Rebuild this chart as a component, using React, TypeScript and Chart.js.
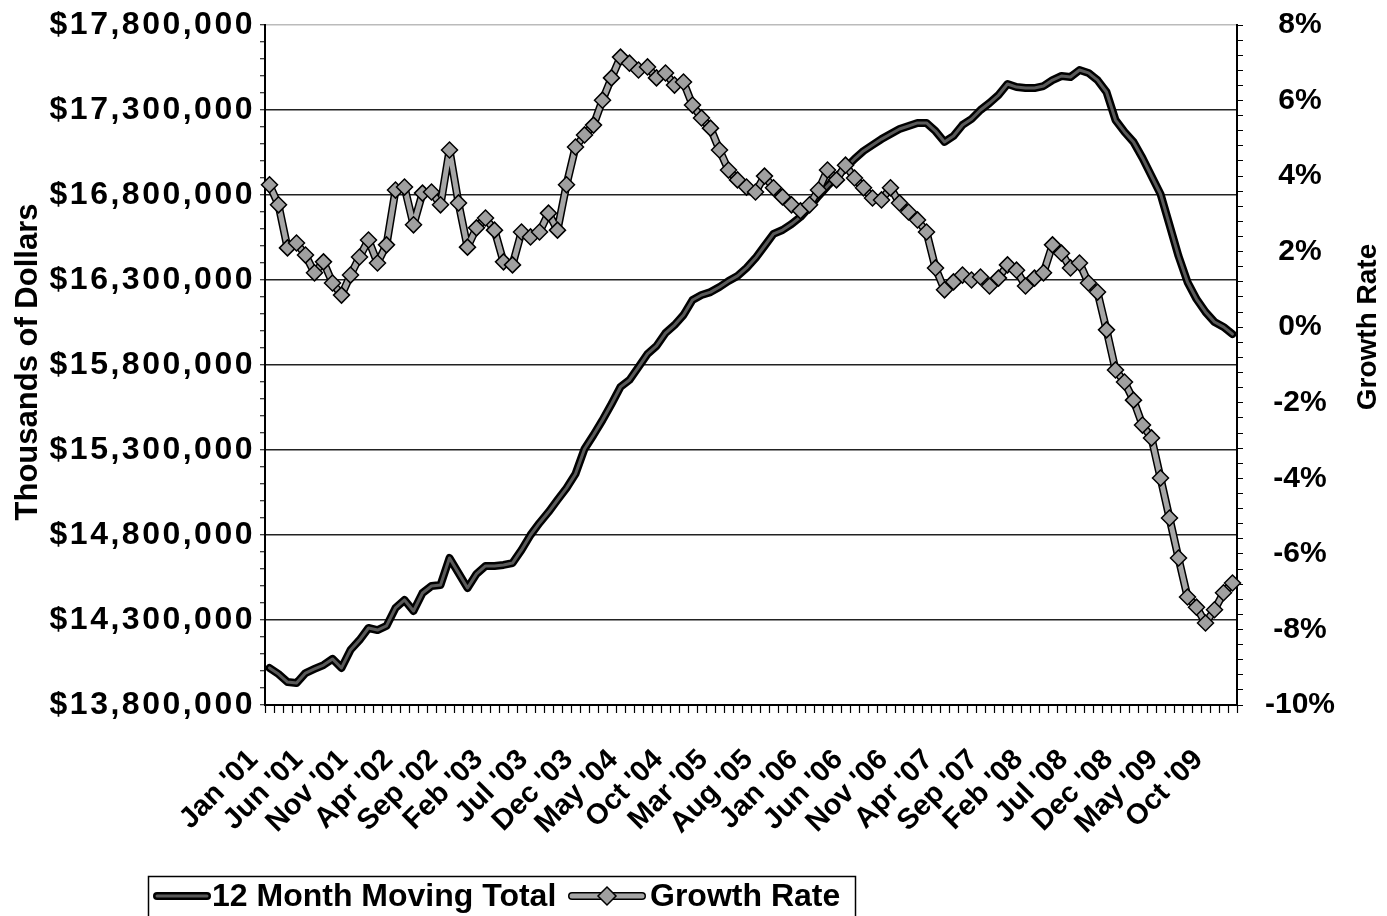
import React, { useEffect, useRef } from "react";
import { Chart, registerables } from "chart.js";

Chart.register(...registerables);

const MONTHS = ["Jan", "Feb", "Mar", "Apr", "May", "Jun", "Jul", "Aug", "Sep", "Oct", "Nov", "Dec"];
const YEARS = ["01", "02", "03", "04", "05", "06", "07", "08", "09"];
const CATEGORIES = YEARS.flatMap((y) => MONTHS.map((m) => `${m} '${y}`));

const MOVING_TOTAL = [
  14018000, 13982000, 13935000, 13929000, 13988000, 14012000, 14035000, 14071000, 14018000, 14124000,
  14182000, 14253000, 14241000, 14265000, 14371000, 14418000, 14353000, 14459000, 14500000, 14506000,
  14665000, 14576000, 14488000, 14571000, 14618000, 14618000, 14624000, 14635000, 14712000, 14800000,
  14871000, 14935000, 15006000, 15076000, 15159000, 15306000, 15388000, 15476000, 15571000, 15671000,
  15712000, 15788000, 15865000, 15912000, 15988000, 16035000, 16094000, 16182000, 16212000, 16229000,
  16259000, 16294000, 16324000, 16371000, 16429000, 16500000, 16571000, 16594000, 16629000, 16671000,
  16729000, 16794000, 16853000, 16906000, 16959000, 17012000, 17059000, 17094000, 17129000, 17159000,
  17188000, 17206000, 17224000, 17224000, 17176000, 17112000, 17147000, 17212000, 17247000, 17300000,
  17341000, 17388000, 17453000, 17435000, 17429000, 17429000, 17441000, 17476000, 17500000, 17494000,
  17535000, 17518000, 17476000, 17406000, 17241000, 17171000, 17112000, 17018000, 16912000, 16806000,
  16624000, 16441000, 16288000, 16188000, 16112000, 16053000, 16024000, 15982000,
];

const GROWTH_RATE = [
  3.77, 3.24, 2.1, 2.23, 1.91, 1.44, 1.73, 1.17, 0.85, 1.38,
  1.86, 2.31, 1.7, 2.18, 3.63, 3.71, 2.71, 3.55, 3.58, 3.24,
  4.69, 3.29, 2.12, 2.63, 2.89, 2.57, 1.73, 1.65, 2.52, 2.39,
  2.52, 3.02, 2.57, 3.77, 4.77, 5.09, 5.35, 6.01, 6.6, 7.15,
  6.99, 6.81, 6.89, 6.6, 6.73, 6.41, 6.49, 5.88, 5.54, 5.27,
  4.69, 4.16, 3.9, 3.71, 3.58, 4.0, 3.69, 3.45, 3.24, 3.08,
  3.24, 3.63, 4.16, 3.9, 4.29, 3.95, 3.69, 3.42, 3.37, 3.69,
  3.29, 3.05, 2.84, 2.52, 1.57, 0.99, 1.2, 1.38, 1.25, 1.33,
  1.09, 1.3, 1.65, 1.51, 1.09, 1.3, 1.44, 2.18, 1.96, 1.57,
  1.7, 1.17, 0.93, -0.07, -1.13, -1.45, -1.93, -2.59, -2.93, -3.99,
  -5.05, -6.11, -7.14, -7.41, -7.83, -7.48, -7.03, -6.77,
];

const LEFT_MIN = 13800000;
const LEFT_MAX = 17800000;
const RIGHT_MIN = -10;
const RIGHT_MAX = 8;
const SERIES_NAMES = ["12 Month Moving Total", "Growth Rate"];
const LEFT_TITLE = "Thousands of Dollars";
const RIGHT_TITLE = "Growth Rate";

const FONT = '"Liberation Sans", Arial, Helvetica, sans-serif';

function zeroPad(s: any) {
  s.paddingTop = 0;
  s.paddingBottom = 0;
  s.paddingLeft = 0;
  s.paddingRight = 0;
}

const spacingPlugin = {
  id: "leftSpacing",
  beforeDraw(chart: any) {
    const s: any = chart.scales.y;
    if (s && !s.__patched) {
      const orig = s.drawLabels;
      s.drawLabels = function (area: any) {
        const ctx = this.ctx;
        ctx.save();
        (ctx as any).letterSpacing = "2.5px";
        orig.call(this, area);
        ctx.restore();
      };
      s.__patched = true;
    }
  },
};

const decorPlugin = {
  id: "decor",
  afterDraw(chart: any) {
    const ctx = chart.ctx as CanvasRenderingContext2D;
    ctx.save();
    ctx.fillStyle = "#000";
    ctx.font = `bold 31px ${FONT}`;
    ctx.textAlign = "center";
    ctx.textBaseline = "middle";
    ctx.save();
    ctx.translate(28, 362);
    ctx.rotate(-Math.PI / 2);
    ctx.fillText(LEFT_TITLE, 0, 0);
    ctx.restore();
    ctx.font = `bold 28px ${FONT}`;
    ctx.save();
    ctx.translate(1368, 327);
    ctx.rotate(-Math.PI / 2);
    ctx.fillText(RIGHT_TITLE, 0, 0);
    ctx.restore();

    const ly = 896;
    ctx.lineWidth = 1.5;
    ctx.strokeStyle = "#000";
    ctx.strokeRect(148.5, 876.5, 707, 60);
    ctx.lineCap = "round";
    ctx.beginPath();
    ctx.moveTo(157, ly);
    ctx.lineTo(207, ly);
    ctx.lineWidth = 8;
    ctx.strokeStyle = "#000";
    ctx.stroke();
    ctx.lineWidth = 3;
    ctx.strokeStyle = "#5a5a5a";
    ctx.stroke();
    ctx.font = `bold 32px ${FONT}`;
    ctx.textAlign = "left";
    ctx.fillStyle = "#000";
    ctx.fillText(SERIES_NAMES[0], 212, ly + 1);

    ctx.beginPath();
    ctx.moveTo(572, ly);
    ctx.lineTo(642, ly);
    ctx.lineWidth = 8;
    ctx.strokeStyle = "#000";
    ctx.stroke();
    ctx.lineWidth = 5;
    ctx.strokeStyle = "#a6a6a6";
    ctx.stroke();
    ctx.beginPath();
    ctx.moveTo(607, ly - 9);
    ctx.lineTo(616, ly);
    ctx.lineTo(607, ly + 9);
    ctx.lineTo(598, ly);
    ctx.closePath();
    ctx.fillStyle = "#a0a0a0";
    ctx.fill();
    ctx.lineWidth = 1.5;
    ctx.strokeStyle = "#000";
    ctx.stroke();
    ctx.fillStyle = "#000";
    ctx.fillText(SERIES_NAMES[1], 650, ly + 1);
    ctx.restore();
  },
};

export default function App() {
  const ref = useRef<HTMLCanvasElement | null>(null);

  useEffect(() => {
    if (!ref.current) return;
    Chart.defaults.font.family = FONT;
    const chart = new Chart(ref.current, {
      type: "line",
      data: {
        labels: CATEGORIES,
        datasets: [
          {
            label: SERIES_NAMES[0],
            data: MOVING_TOTAL,
            yAxisID: "y",
            borderColor: "#000",
            borderWidth: 8,
            pointRadius: 0,
            tension: 0,
            borderJoinStyle: "round",
            borderCapStyle: "round",
            order: 4,
          },
          {
            label: SERIES_NAMES[0] + " inner",
            data: MOVING_TOTAL,
            yAxisID: "y",
            borderColor: "#5a5a5a",
            borderWidth: 3,
            pointRadius: 0,
            tension: 0,
            borderJoinStyle: "round",
            borderCapStyle: "round",
            order: 3,
          },
          {
            label: SERIES_NAMES[1] + " outline",
            data: GROWTH_RATE,
            yAxisID: "y1",
            borderColor: "#000",
            borderWidth: 8,
            pointRadius: 0,
            tension: 0,
            borderJoinStyle: "round",
            borderCapStyle: "round",
            order: 2,
          },
          {
            label: SERIES_NAMES[1],
            data: GROWTH_RATE,
            yAxisID: "y1",
            borderColor: "#a6a6a6",
            borderWidth: 5,
            pointStyle: "rectRot",
            pointRadius: 8,
            pointBackgroundColor: "#a0a0a0",
            pointBorderColor: "#000",
            pointBorderWidth: 1.5,
            tension: 0,
            borderJoinStyle: "round",
            order: 1,
          },
        ],
      },
      options: {
        animation: false,
        responsive: true,
        maintainAspectRatio: false,
        layout: { padding: { top: 25, left: 0, right: 0, bottom: 0 } },
        plugins: { legend: { display: false }, tooltip: { enabled: false } },
        scales: {
          x: {
            type: "category",
            offset: true,
            grid: {
              offset: true,
              drawOnChartArea: false,
              drawTicks: true,
              tickLength: 8,
              tickColor: "#000",
              tickWidth: 1.2,
            },
            border: { display: true, color: "#000", width: 2 },
            ticks: {
              autoSkip: false,
              maxRotation: 45,
              minRotation: 45,
              padding: 30,
              labelOffset: -16,
              color: "#000",
              font: { size: 29, weight: "bold", family: FONT },
              callback: (_v: any, i: number) => (i % 5 === 0 ? CATEGORIES[i] : ""),
            },
            afterFit: (s: any) => {
              s.height = 211;
              zeroPad(s);
            },
          },
          y: {
            position: "left",
            min: LEFT_MIN,
            max: LEFT_MAX,
            grid: {
              color: (c: any) => {
                const v = c.tick ? c.tick.value : 0;
                const k = Math.round((v - LEFT_MIN) / 100000);
                if (k % 5 !== 0) return "rgba(0,0,0,0)";
                if (v >= LEFT_MAX) return "#bbbbbb";
                return "#222";
              },
              lineWidth: 1.5,
              tickColor: "#000",
              tickLength: 5,
              tickWidth: 1,
            },
            border: { display: true, color: "#000", width: 2 },
            ticks: {
              stepSize: 100000,
              autoSkip: false,
              padding: 5,
              color: "#000",
              font: { size: 32, weight: "bold", family: FONT },
              callback: (v: any) => {
                const k = Math.round((Number(v) - LEFT_MIN) / 100000);
                return k % 5 === 0 ? "$" + Number(v).toLocaleString("en-US") : "";
              },
            },
            afterFit: (s: any) => {
              s.width = 265;
              zeroPad(s);
            },
          },
          y1: {
            position: "right",
            min: RIGHT_MIN,
            max: RIGHT_MAX,
            grid: {
              drawOnChartArea: false,
              tickColor: "#000",
              tickLength: 6,
              tickWidth: 1,
            },
            border: { display: true, color: "#000", width: 2 },
            ticks: {
              stepSize: 0.4,
              autoSkip: false,
              padding: 22,
              crossAlign: "center",
              color: "#000",
              font: { size: 30, weight: "bold", family: FONT },
              callback: (v: any) => {
                const t = Math.round(Number(v) * 10);
                return t % 20 === 0 ? `${Math.round(Number(v))}%` : "";
              },
            },
            afterFit: (s: any) => {
              s.width = 150;
              zeroPad(s);
            },
          },
        },
      },
      plugins: [spacingPlugin, decorPlugin],
    });
    return () => chart.destroy();
  }, []);

  return (
    <div style={{ position: "fixed", left: 0, top: 0, width: "1387px", height: "916px", background: "#fff" }}>
      <canvas ref={ref} />
    </div>
  );
}
